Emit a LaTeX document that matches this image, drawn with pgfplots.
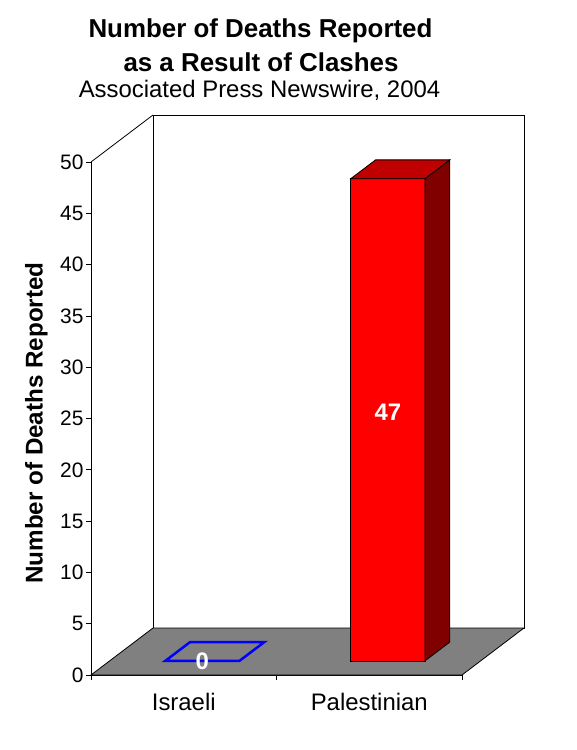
\documentclass[border=0pt]{standalone}
\usepackage{pgfplots}
\pgfplotsset{compat=1.18}
\usepackage{pgfplotstable}
\usepackage{fontspec}
\setmainfont{Liberation Sans}

\definecolor{floorgray}{RGB}{128,128,128}
\definecolor{barfront}{RGB}{255,0,0}
\definecolor{bartop}{RGB}{192,0,0}
\definecolor{barside}{RGB}{128,0,0}

% deaths per group (x = category position)
\pgfplotstableread{
x   deaths
0.5 0
1.5 47
}\deathtable

% corners of the bar faces: u = across, d = into depth, h = up (times value)
\pgfplotstableread{
u d h
0 0 0
1 0 0
1 0 1
0 0 1
}\frontface
\pgfplotstableread{
u d h
1 0 0
1 1 0
1 1 1
1 0 1
}\sideface
\pgfplotstableread{
u d h
0 0 1
1 0 1
1 1 1
0 1 1
}\topface

% one face of a 3d bar: #1 style, #2 face table, #3 category x, #4 value
\newcommand{\barface}[4]{%
  \addplot[#1] table[x expr={#3-0.2+0.1003+0.4*\thisrow{u}+0.1337*\thisrow{d}},
    y expr={1.3743+#4*\thisrow{h}+1.8324*\thisrow{d}}] {#2} -- cycle;
}

\begin{document}
\begin{tikzpicture}
\useasboundingbox (0,0) rectangle (577bp,-750bp);
\pgfplotstablegetelem{0}{deaths}\of\deathtable \let\isrv\pgfplotsretval
\pgfplotstablegetelem{1}{deaths}\of\deathtable \let\palv\pgfplotsretval

\begin{axis}[
    width=371bp, height=513bp, scale only axis,
    at={(91bp,-675bp)}, anchor=south west,
    xmin=0, xmax=2, ymin=0, ymax=50,
    clip=false,
    axis x line=bottom, axis y line=left,
    axis line style={-, line width=0.8bp, black},
    every outer x axis line/.append style={-},
    every outer y axis line/.append style={-},
    tick align=outside,
    major tick length=5bp,
    tick style={black, line width=0.8bp},
    xtick={0,1,2}, xticklabels={,,},
    extra x ticks={0.5,1.5},
    extra x tick labels={Israeli,Palestinian},
    extra x tick style={major tick length=0pt,
        tick label style={anchor=base, yshift=-35bp, font=\fontsize{24}{24}\selectfont}},
    ytick={0,5,...,50},
    yticklabel style={font=\fontsize{21}{22}\selectfont, xshift=1bp},
    /pgf/number format/assume math mode=true,
    ]

    % back wall, floor and corner edge
    \draw[fill=white, line width=0.8bp] (axis cs:0.3342,4.581) rectangle (axis cs:2.3342,54.581);
    \draw[fill=floorgray, line width=0.8bp] (axis cs:0,0) -- (axis cs:2,0)
        -- (axis cs:2.3342,4.581) -- (axis cs:0.3342,4.581) -- cycle;
    \draw[line width=0.8bp] (axis cs:0,50) -- (axis cs:0.3342,54.581);

    % Israeli: zero height, only the outline of the top
    \barface{draw=blue, line width=2.5bp, fill=none}{\topface}{0.5}{\isrv}

    % Palestinian
    \barface{fill=barfront, draw=black, line width=0.8bp}{\frontface}{1.5}{\palv}
    \barface{fill=barside, draw=black, line width=0.8bp}{\sideface}{1.5}{\palv}
    \barface{fill=bartop, draw=black, line width=0.8bp}{\topface}{1.5}{\palv}

    % value labels
    \addplot[draw=none, mark=none, nodes near coords, point meta=explicit,
        every node near coord/.append style={anchor=center, text=white,
            font=\fontsize{24}{24}\selectfont\bfseries}]
        table[x expr=\thisrow{x}+0.1003, y expr=1.3743+0.516*\thisrow{deaths},
            meta=deaths] {\deathtable};
\end{axis}

\node[anchor=base, font=\fontsize{26}{30}\selectfont\bfseries] at (260.5bp,-37bp) {Number of Deaths Reported};
\node[anchor=base, font=\fontsize{26}{30}\selectfont\bfseries] at (261bp,-71bp) {as a Result of Clashes};
\node[anchor=base, font=\fontsize{24}{28}\selectfont] at (259.5bp,-97bp) {Associated Press Newswire, 2004};
\node[rotate=90, anchor=base, font=\fontsize{24.3}{25}\selectfont\bfseries] at (42.5bp,-423bp) {Number of Deaths Reported};
\end{tikzpicture}
\end{document}
